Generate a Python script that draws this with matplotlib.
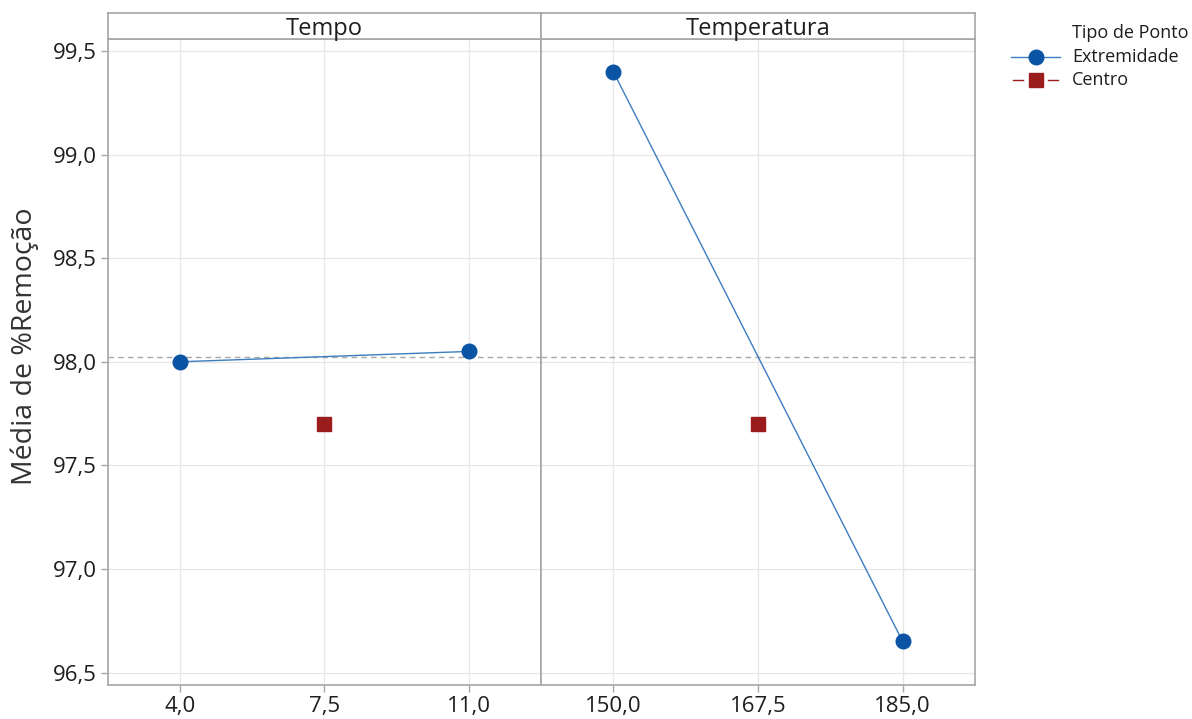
import matplotlib
matplotlib.use("Agg")
import matplotlib.pyplot as plt
from matplotlib.lines import Line2D

plt.rcParams['font.family'] = ['Open Sans', 'DejaVu Sans']

# Main effects data: mean response at each factor level
factors = ["Tempo", "Temperatura"]
tempo_levels = [4.0, 11.0]
tempo_means = [98.00, 98.05]
tempo_center = [7.5]
tempo_center_mean = [97.70]
temp_levels = [150.0, 185.0]
temp_means = [99.40, 96.65]
temp_center = [167.5]
temp_center_mean = [97.70]
tempo_ticks = [4.0, 7.5, 11.0]
temp_ticks = [150.0, 167.5, 185.0]
y_ticks = [96.5, 97.0, 97.5, 98.0, 98.5, 99.0, 99.5]
grand_mean = 98.025
legend_title = "Tipo de Ponto"
legend_labels = ["Extremidade", "Centro"]

BLUE = "#0B54A4"
LINE_BLUE = "#3C7CC0"
RED = "#9B1C1C"
SPINE = "#A6A6A6"
GRID = "#E6E6E6"
TEXT = "#1E1E1E"

W, H = 1192, 719
fig = plt.figure(figsize=(W / 100, H / 100), dpi=100)

x0, xm, x1 = 107.7 / W, 541 / W, 975 / W
y_bot = 1 - 685 / H
y_top = 1 - 39 / H
s_top = 1 - 13.3 / H

panels = [
    (factors[0], tempo_levels, tempo_means, tempo_center, tempo_center_mean, tempo_ticks, (2.25, 12.75), x0, xm),
    (factors[1], temp_levels, temp_means, temp_center, temp_center_mean, temp_ticks, (141.25, 193.75), xm, x1),
]

def fmt(v):
    return f"{v:.1f}".replace(".", ",")

for i, (name, lv, mv, cl, cm, ticks, xlim, a, b) in enumerate(panels):
    ax = fig.add_axes([a, y_bot, b - a, y_top - y_bot])
    ax.set_xlim(*xlim)
    ax.set_ylim(96.44, 99.558)
    ax.set_xticks(ticks)
    ax.set_xticklabels([fmt(t) for t in ticks])
    ax.set_yticks(y_ticks)
    ax.grid(True, color=GRID, linewidth=0.9)
    ax.set_axisbelow(True)
    ax.axhline(grand_mean, color="#A8A8A8", linestyle=(0, (4, 3)), linewidth=1.0, zorder=1)
    ax.plot(lv, mv, color=LINE_BLUE, linewidth=1.0, zorder=2)
    ax.plot(lv, mv, linestyle="none", marker="o", markersize=10.5,
            markerfacecolor=BLUE, markeredgecolor=BLUE, zorder=3)
    ax.plot(cl, cm, linestyle="none", marker="s", markersize=9.5,
            markerfacecolor=RED, markeredgecolor=RED, zorder=3)
    for s in ax.spines.values():
        s.set_color(SPINE)
        s.set_linewidth(1.2)
    ax.tick_params(axis="both", colors=SPINE, labelcolor=TEXT, labelsize=16,
                   length=5, width=1, pad=3)
    if i == 0:
        ax.set_yticklabels([fmt(t) for t in y_ticks])
    else:
        ax.tick_params(axis="y", left=False, labelleft=False)

    # strip header
    sx = fig.add_axes([a, y_top, b - a, s_top - y_top])
    sx.set_xticks([])
    sx.set_yticks([])
    for s in sx.spines.values():
        s.set_color(SPINE)
        s.set_linewidth(1.2)
    sx.text(0.5, 0.40, name, ha="center", va="center", fontsize=17, color=TEXT,
            transform=sx.transAxes)

fig.text(25 / W, 1 - 346 / H, "Média de %Remoção", rotation=90, ha="center",
         va="center", fontsize=20.5, color="#333333")

# legend drawn in figure pixel coordinates
def fx(px):
    return px / W

def fy(py):
    return 1 - py / H

fig.text(fx(1072), fy(33), legend_title, ha="left", va="center", fontsize=13, color=TEXT)
fig.text(fx(1072), fy(57), legend_labels[0], ha="left", va="center", fontsize=13, color=TEXT)
fig.text(fx(1072), fy(80), legend_labels[1], ha="left", va="center", fontsize=13, color=TEXT)
fig.add_artist(Line2D([fx(1011), fx(1060)], [fy(57), fy(57)], color=LINE_BLUE,
                      linewidth=1.0, transform=fig.transFigure))
fig.add_artist(Line2D([fx(1036)], [fy(57)], marker="o", markersize=10.5,
                      markerfacecolor=BLUE, markeredgecolor=BLUE, linestyle="none",
                      transform=fig.transFigure))
fig.add_artist(Line2D([fx(1013), fx(1023)], [fy(80), fy(80)], color=RED,
                      linewidth=1.0, transform=fig.transFigure))
fig.add_artist(Line2D([fx(1048), fx(1058)], [fy(80), fy(80)], color=RED,
                      linewidth=1.0, transform=fig.transFigure))
fig.add_artist(Line2D([fx(1036)], [fy(80)], marker="s", markersize=9.5,
                      markerfacecolor=RED, markeredgecolor=RED, linestyle="none",
                      transform=fig.transFigure))

fig.savefig("out.png", dpi=100)
